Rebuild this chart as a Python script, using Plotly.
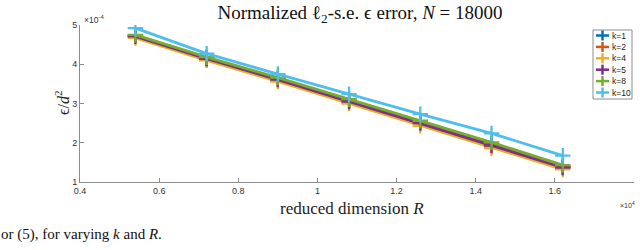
import plotly.graph_objects as go

# ---- data ----
R_values = [5400, 7200, 9000, 10800, 12600, 14400, 16200]
k_labels = ["k=1", "k=2", "k=4", "k=5", "k=8", "k=10"]
err_k1 = [4.73, 4.16, 3.63, 3.08, 2.53, 1.96, 1.40]
err_k2 = [4.72, 4.15, 3.62, 3.06, 2.51, 1.94, 1.38]
err_k4 = [4.67, 4.10, 3.56, 3.00, 2.43, 1.86, 1.32]
err_k5 = [4.71, 4.14, 3.61, 3.05, 2.50, 1.93, 1.37]
err_k8 = [4.75, 4.18, 3.66, 3.11, 2.56, 2.01, 1.43]
err_k10 = [4.92, 4.27, 3.75, 3.24, 2.73, 2.24, 1.67]
series = [err_k1, err_k2, err_k4, err_k5, err_k8, err_k10]
colors = ["#0072BD", "#D95319", "#EDB120", "#7E2F8E", "#77AC30", "#4DBEEE"]

x_tickvals = [4000, 6000, 8000, 10000, 12000, 14000, 16000, 18000]
x_ticktext = ["0.4", "0.6", "0.8", "1", "1.2", "1.4", "1.6", "1.8"]
y_tickvals = [1e-4, 2e-4, 3e-4, 4e-4, 5e-4]
y_ticktext = ["1", "2", "3", "4", "5"]

W, H = 640, 250
ML, MR, MT, MB = 80, 6, 25, 68
PW, PH = W - ML - MR, H - MT - MB

def px(x):
    return (x - ML) / PW

def py(y):
    return (H - MB - y) / PH

fig = go.Figure()
for lab, vals, c in zip(k_labels, series, colors):
    fig.add_trace(go.Scatter(
        x=R_values, y=[v * 1e-4 for v in vals], mode="lines+markers", name=lab,
        line=dict(color=c, width=2.8),
        marker=dict(symbol="cross-thin", size=11, line=dict(color=c, width=2.3)),
        showlegend=False,
    ))

axis_common = dict(
    showgrid=False, zeroline=False, showline=True, linecolor="#8c8c8c", linewidth=1,
    ticks="inside", ticklen=4, tickcolor="#8c8c8c", mirror=False,
    tickfont=dict(family="Liberation Sans", size=9, color="#333"),
)
fig.update_xaxes(range=[4000, 18000], tickvals=x_tickvals, ticktext=x_ticktext, **axis_common)
fig.update_yaxes(range=[1e-4, 5e-4], tickvals=y_tickvals, ticktext=y_ticktext, **axis_common)

annotations = [
    dict(text="reduced dimension <i>R</i>", x=px(352), y=py(208), xref="paper", yref="paper",
         xanchor="center", yanchor="middle", showarrow=False,
         font=dict(family="Liberation Serif", size=17, color="#222")),
    dict(text="ϵ/<i>d</i><sup>2</sup>", x=px(62), y=py(103), xref="paper", yref="paper",
         xanchor="center", yanchor="middle", showarrow=False, textangle=-90,
         font=dict(family="Liberation Serif", size=16, color="#222")),
    dict(text="×10<sup>-4</sup>", x=px(82), y=py(19), xref="paper", yref="paper",
         xanchor="left", yanchor="middle", showarrow=False,
         font=dict(family="Liberation Sans", size=8.5, color="#333")),
    dict(text="×10<sup>4</sup>", x=px(637), y=py(205), xref="paper", yref="paper",
         xanchor="right", yanchor="middle", showarrow=False,
         font=dict(family="Liberation Sans", size=7, color="#333")),
    dict(text="or (5), for varying <i>k</i> and <i>R</i>.", x=px(-1), y=py(234), xref="paper",
         yref="paper", xanchor="left", yanchor="middle", showarrow=False,
         font=dict(family="Liberation Serif", size=15, color="#111")),
]

# custom compact legend (MATLAB style)
shapes = []
lx0, lx1, ly0, ly1 = 593, 632, 30, 99
shapes.append(dict(type="rect", xref="paper", yref="paper", x0=px(lx0), x1=px(lx1),
                   y0=py(ly1), y1=py(ly0), line=dict(color="#8c8c8c", width=1),
                   fillcolor="white", layer="above"))
for i, (lab, c) in enumerate(zip(k_labels, colors)):
    yy = 35.5 + i * 11.4
    shapes.append(dict(type="line", xref="paper", yref="paper", x0=px(596), x1=px(609),
                       y0=py(yy), y1=py(yy), line=dict(color=c, width=2.5), layer="above"))
    shapes.append(dict(type="line", xref="paper", yref="paper", x0=px(602.5), x1=px(602.5),
                       y0=py(yy - 5), y1=py(yy + 5), line=dict(color=c, width=2.5), layer="above"))
    annotations.append(dict(text=lab, x=px(610), y=py(yy), xref="paper", yref="paper",
                            xanchor="left", yanchor="middle", showarrow=False,
                            font=dict(family="Liberation Sans", size=8.5, color="#222")))

fig.update_layout(
    width=W, height=H, margin=dict(l=ML, r=MR, t=MT, b=MB),
    paper_bgcolor="white", plot_bgcolor="white",
    title=dict(text="Normalized ℓ<sub>2</sub>-s.e. ϵ error, <i>N</i> = 18000",
               xref="container", x=360 / W, xanchor="center",
               yref="container", y=1 - 12 / H, yanchor="middle",
               font=dict(family="Liberation Serif", size=19, color="#111")),
    annotations=annotations, shapes=shapes,
)
fig.write_html("out.html", config={"displayModeBar": False},
               post_script="document.body.style.margin='0px';")
